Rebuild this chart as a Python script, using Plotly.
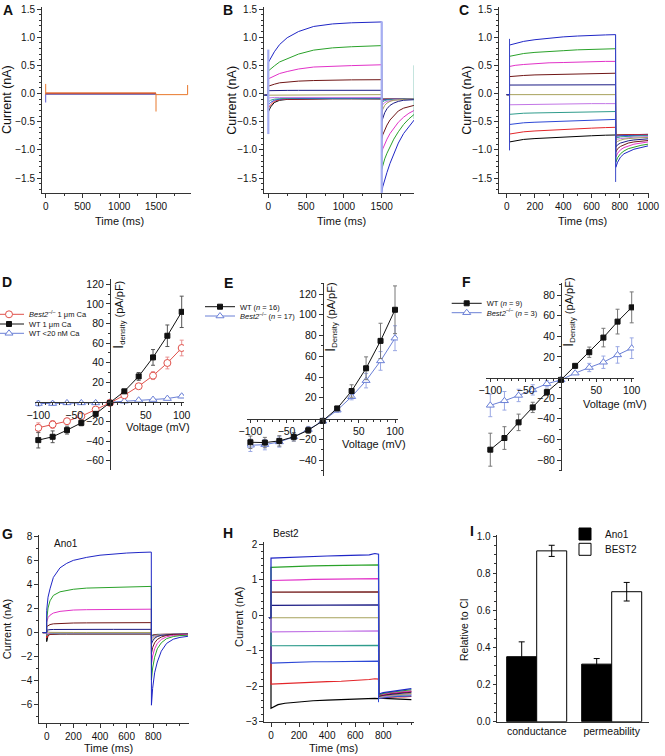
import plotly.graph_objects as go

W, H = 665, 756
FONT = "Liberation Sans, Arial, Helvetica, sans-serif"

# sweep colours, bottom sweep first (Clampfit order)
SWEEP_COLORS = ["#000000", "#e3262a", "#2d48d6", "#2f9c8c", "#c276e6",
                "#a7a25c", "#1b1b84", "#701616", "#e232c8", "#2aa22a", "#1f26c6"]

# ---------------- Panel A ----------------
A_t_step = [0, 1500]
A_step_I = [[-0.010, -0.010], [-0.005, -0.005], [0.005, 0.005], [0.010, 0.010]]
A_step_colors = ["#1b1b84", "#8a5ab0", "#c0302a", "#e8782c"]
A_t_tail = [1500, 1930]
A_tail_I = [-0.02, -0.02]
A_spike_t = [0, 0, None, 1500, 1500, None, 1930, 1930]
A_spike_I = [0.17, -0.02, None, 0.0, -0.32, None, -0.02, 0.15]
A_spike2_t = [0, 0]
A_spike2_I = [0.0, -0.16]

# ---------------- Panel B ----------------
B_hold_t = [-50, 0]
B_hold_I = [-0.03, -0.03]
B_t_step = [0, 30, 80, 150, 250, 400, 600, 850, 1100, 1500]
B_step_I = [
    [-0.33, -0.24, -0.16, -0.12, -0.105, -0.10, -0.10, -0.095, -0.095, -0.095],
    [-0.26, -0.20, -0.14, -0.11, -0.10, -0.095, -0.09, -0.09, -0.09, -0.09],
    [-0.20, -0.16, -0.12, -0.10, -0.09, -0.09, -0.085, -0.085, -0.085, -0.085],
    [-0.15, -0.12, -0.10, -0.09, -0.085, -0.08, -0.08, -0.08, -0.08, -0.08],
    [-0.08, -0.075, -0.07, -0.07, -0.07, -0.07, -0.07, -0.07, -0.07, -0.07],
    [-0.02, -0.02, -0.02, -0.02, -0.02, -0.02, -0.02, -0.02, -0.02, -0.02],
    [0.050, 0.052, 0.054, 0.055, 0.055, 0.056, 0.056, 0.057, 0.057, 0.057],
    [0.13, 0.145, 0.165, 0.19, 0.205, 0.22, 0.23, 0.238, 0.242, 0.245],
    [0.26, 0.28, 0.315, 0.355, 0.39, 0.435, 0.47, 0.485, 0.495, 0.51],
    [0.40, 0.44, 0.49, 0.56, 0.62, 0.70, 0.77, 0.81, 0.83, 0.85],
    [0.55, 0.63, 0.74, 0.87, 0.99, 1.10, 1.19, 1.235, 1.255, 1.27],
]
B_t_tail = [1500, 1515, 1540, 1570, 1610, 1660, 1720, 1790, 1860, 1930]
B_tail_I = [
    [-0.10, -0.10, -0.10, -0.10, -0.10, -0.10, -0.10, -0.10, -0.10, -0.10],
    [-0.11, -0.105, -0.10, -0.10, -0.10, -0.10, -0.10, -0.10, -0.10, -0.10],
    [-0.13, -0.12, -0.11, -0.105, -0.10, -0.10, -0.10, -0.10, -0.10, -0.10],
    [-0.16, -0.14, -0.125, -0.115, -0.11, -0.105, -0.10, -0.10, -0.10, -0.10],
    [-0.22, -0.19, -0.16, -0.14, -0.125, -0.115, -0.11, -0.105, -0.10, -0.10],
    [-0.32, -0.27, -0.21, -0.17, -0.14, -0.12, -0.11, -0.105, -0.10, -0.10],
    [-0.50, -0.42, -0.34, -0.27, -0.21, -0.17, -0.14, -0.12, -0.11, -0.11],
    [-0.80, -0.73, -0.64, -0.56, -0.47, -0.39, -0.31, -0.26, -0.23, -0.21],
    [-1.05, -0.98, -0.89, -0.81, -0.71, -0.61, -0.51, -0.42, -0.35, -0.30],
    [-1.35, -1.27, -1.16, -1.06, -0.94, -0.81, -0.68, -0.55, -0.45, -0.37],
    [-1.75, -1.65, -1.52, -1.40, -1.24, -1.06, -0.88, -0.71, -0.59, -0.47],
]
B_art_t = [0, 0, None, 1500, 1500]
B_art_I = [0.78, -0.72, None, 1.28, -1.82]
B_end_t = [1930, 1930]
B_end_I = [-0.45, 0.50]

# ---------------- Panel C ----------------
C_hold_t = [0, 20]
C_hold_I = [-0.02, -0.02]
C_t_step = [20, 60, 120, 200, 300, 400, 500, 600, 700, 770]
C_step_I = [
    [-0.86, -0.84, -0.815, -0.80, -0.785, -0.775, -0.76, -0.75, -0.74, -0.735],
    [-0.72, -0.70, -0.68, -0.665, -0.65, -0.635, -0.625, -0.615, -0.605, -0.60],
    [-0.55, -0.535, -0.52, -0.51, -0.50, -0.49, -0.48, -0.47, -0.465, -0.46],
    [-0.37, -0.36, -0.35, -0.345, -0.34, -0.335, -0.33, -0.325, -0.32, -0.32],
    [-0.20, -0.198, -0.195, -0.19, -0.19, -0.185, -0.185, -0.18, -0.18, -0.18],
    [-0.02, -0.02, -0.02, -0.02, -0.02, -0.02, -0.02, -0.02, -0.02, -0.02],
    [0.150, 0.150, 0.152, 0.152, 0.153, 0.154, 0.154, 0.155, 0.155, 0.155],
    [0.30, 0.31, 0.32, 0.33, 0.335, 0.34, 0.35, 0.355, 0.36, 0.36],
    [0.48, 0.50, 0.515, 0.53, 0.545, 0.55, 0.56, 0.565, 0.57, 0.57],
    [0.66, 0.685, 0.71, 0.73, 0.75, 0.76, 0.775, 0.785, 0.79, 0.795],
    [0.86, 0.89, 0.925, 0.955, 0.985, 1.005, 1.02, 1.035, 1.04, 1.045],
]
C_t_tail = [772, 785, 805, 830, 860, 900, 950, 1000]
C_tail_I = [
    [-0.73, -0.73, -0.73, -0.728, -0.727, -0.726, -0.725, -0.725],
    [-0.74, -0.738, -0.736, -0.734, -0.732, -0.73, -0.73, -0.73],
    [-0.76, -0.755, -0.75, -0.745, -0.745, -0.74, -0.74, -0.74],
    [-0.79, -0.78, -0.77, -0.765, -0.76, -0.755, -0.75, -0.75],
    [-0.83, -0.81, -0.80, -0.79, -0.78, -0.775, -0.77, -0.765],
    [-0.88, -0.85, -0.83, -0.81, -0.80, -0.79, -0.785, -0.78],
    [-0.95, -0.91, -0.88, -0.86, -0.84, -0.825, -0.815, -0.805],
    [-1.04, -0.98, -0.94, -0.91, -0.88, -0.86, -0.845, -0.835],
    [-1.13, -1.06, -1.00, -0.96, -0.93, -0.90, -0.88, -0.86],
    [-1.22, -1.14, -1.07, -1.02, -0.98, -0.95, -0.92, -0.90],
    [-1.31, -1.22, -1.13, -1.07, -1.03, -0.99, -0.96, -0.93],
]
C_art_t = [20, 20, None, 771, 771]
C_art_I = [0.97, -1.01, None, 1.045, -1.57]

# ---------------- Panel D ----------------
V = [-100, -80, -60, -40, -20, 0, 20, 40, 60, 80, 100]
D_ko = [-26.4, -23.0, -19.7, -14.6, -7.8, -1.0, 6.8, 16.0, 26.8, 39.7, 55.0]
D_ko_err = [5, 4, 3, 3, 2, 1, 1, 2.5, 4, 6, 8]
D_wt = [-39.0, -35.6, -28.8, -21.4, -12.2, -1.0, 10.8, 26.0, 45.4, 67.5, 91.9]
D_wt_err = [8, 6, 4, 3, 2, 1, 1, 4, 8, 11, 16]
D_low = [-1.7, -1.7, -1.0, -1.0, -1.0, -0.3, 0.7, 1.7, 2.4, 3.4, 5.8]
D_low_err = [2.5, 2, 1.5, 1, 1, 0.5, 0.5, 1, 1, 1, 1.5]

# ---------------- Panel E ----------------
E_wt = [-22.9, -23.2, -21.6, -17.7, -11.3, -2.3, 9.7, 26.5, 48.4, 74.8, 104.8]
E_wt_err = [6, 5, 5, 4, 3, 1, 2, 6, 11, 17, 23]
E_ko = [-25.8, -25.2, -22.6, -17.7, -10.6, -2.6, 8.0, 21.0, 36.5, 55.5, 77.4]
E_ko_err = [6, 5, 5, 4, 3, 1, 2, 3, 7, 9, 12]

# ---------------- Panel F ----------------
F_wt = [-70.0, -58.7, -43.5, -29.0, -14.2, -2.3, 11.3, 24.5, 38.7, 54.2, 68.0]
F_wt_err = [16, 11, 8, 5, 3, 1, 1, 5, 9, 12, 15]
F_ko = [-27.0, -22.6, -17.4, -12.0, -6.1, -2.3, 4.2, 9.7, 14.8, 21.9, 28.4]
F_ko_err = [11, 9, 6, 5, 3, 1, 1, 4, 6, 8, 10]

# ---------------- Panel G ----------------
G_hold_t = [-30, 0]
G_hold_I = [-0.05, -0.05]
G_color_idx = [0, 1, 3, 4, 5, 6, 7, 8, 9, 10]
G_t_step = [0, 10, 25, 50, 100, 150, 200, 300, 400, 500, 600, 700, 785]
G_step_I = [
    [-0.80, -0.30, -0.20, -0.18, -0.17, -0.17, -0.17, -0.17, -0.17, -0.17, -0.17, -0.17, -0.17],
    [-0.50, -0.25, -0.17, -0.15, -0.14, -0.14, -0.14, -0.14, -0.14, -0.14, -0.14, -0.14, -0.14],
    [-0.30, -0.15, -0.12, -0.11, -0.11, -0.11, -0.11, -0.11, -0.11, -0.11, -0.11, -0.11, -0.11],
    [-0.15, -0.10, -0.09, -0.08, -0.08, -0.08, -0.08, -0.08, -0.08, -0.08, -0.08, -0.08, -0.08],
    [0.10, 0.00, -0.03, -0.04, -0.04, -0.04, -0.04, -0.04, -0.04, -0.04, -0.04, -0.04, -0.04],
    [0.15, 0.18, 0.20, 0.21, 0.22, 0.22, 0.22, 0.22, 0.22, 0.22, 0.22, 0.22, 0.22],
    [0.45, 0.55, 0.62, 0.68, 0.72, 0.74, 0.75, 0.76, 0.77, 0.77, 0.78, 0.78, 0.78],
    [0.80, 1.20, 1.40, 1.58, 1.72, 1.79, 1.83, 1.86, 1.87, 1.88, 1.89, 1.89, 1.90],
    [1.00, 2.00, 2.60, 3.05, 3.35, 3.48, 3.56, 3.66, 3.70, 3.73, 3.75, 3.78, 3.80],
    [1.80, 2.90, 3.60, 4.55, 5.35, 5.72, 5.97, 6.22, 6.40, 6.50, 6.58, 6.63, 6.66],
]
G_t_tail = [786, 795, 810, 830, 860, 900, 950, 1000, 1060]
G_tail_I = [
    [-0.30, -0.25, -0.22, -0.20, -0.19, -0.18, -0.18, -0.18, -0.18],
    [-0.35, -0.28, -0.24, -0.21, -0.20, -0.19, -0.19, -0.19, -0.19],
    [-0.40, -0.32, -0.27, -0.23, -0.21, -0.20, -0.20, -0.20, -0.20],
    [-0.55, -0.42, -0.33, -0.27, -0.23, -0.21, -0.20, -0.20, -0.20],
    [-0.70, -0.55, -0.42, -0.32, -0.26, -0.22, -0.21, -0.20, -0.20],
    [-1.00, -0.75, -0.52, -0.38, -0.28, -0.22, -0.19, -0.18, -0.17],
    [-1.80, -1.30, -0.90, -0.62, -0.42, -0.28, -0.22, -0.20, -0.19],
    [-2.70, -2.00, -1.40, -0.95, -0.62, -0.40, -0.28, -0.24, -0.22],
    [-4.00, -3.00, -2.10, -1.40, -0.90, -0.55, -0.38, -0.30, -0.27],
    [-6.10, -4.70, -3.40, -2.50, -1.60, -0.95, -0.60, -0.45, -0.36],
]

# ---------------- Panel H ----------------
H_hold_t = [-15, 0]
H_hold_I = [-0.07, -0.07]
H_t_step = [0, 50, 100, 200, 300, 400, 500, 600, 700, 740, 766]
H_step_I = [
    [-2.62, -2.52, -2.48, -2.44, -2.41, -2.39, -2.37, -2.36, -2.35, -2.34, -2.35],
    [-1.94, -1.93, -1.91, -1.89, -1.88, -1.87, -1.86, -1.84, -1.81, -1.79, -1.80],
    [-1.35, -1.34, -1.33, -1.32, -1.31, -1.31, -1.30, -1.30, -1.29, -1.29, -1.29],
    [-0.86, -0.86, -0.86, -0.855, -0.855, -0.85, -0.85, -0.85, -0.85, -0.85, -0.85],
    [-0.47, -0.47, -0.46, -0.46, -0.455, -0.45, -0.45, -0.445, -0.44, -0.44, -0.44],
    [-0.07, -0.07, -0.07, -0.07, -0.07, -0.07, -0.07, -0.07, -0.07, -0.07, -0.07],
    [0.28, 0.28, 0.28, 0.285, 0.285, 0.285, 0.29, 0.29, 0.29, 0.29, 0.29],
    [0.65, 0.65, 0.65, 0.655, 0.655, 0.66, 0.66, 0.66, 0.66, 0.66, 0.66],
    [0.98, 0.99, 1.00, 1.00, 1.01, 1.01, 1.02, 1.02, 1.02, 1.03, 1.03],
    [1.35, 1.36, 1.37, 1.38, 1.39, 1.40, 1.41, 1.41, 1.42, 1.42, 1.42],
    [1.61, 1.62, 1.62, 1.64, 1.66, 1.67, 1.68, 1.69, 1.70, 1.74, 1.72],
]
H_t_tail = [768, 800, 850, 900, 950, 1000]
H_tail_I = [
    [-2.33, -2.34, -2.35, -2.36, -2.37, -2.38],
    [-2.33, -2.32, -2.31, -2.30, -2.30, -2.29],
    [-2.34, -2.32, -2.30, -2.29, -2.28, -2.27],
    [-2.33, -2.30, -2.28, -2.27, -2.25, -2.24],
    [-2.31, -2.29, -2.27, -2.25, -2.23, -2.22],
    [-2.30, -2.27, -2.25, -2.23, -2.21, -2.20],
    [-2.28, -2.25, -2.23, -2.21, -2.19, -2.17],
    [-2.27, -2.24, -2.21, -2.19, -2.17, -2.15],
    [-2.25, -2.22, -2.19, -2.17, -2.15, -2.13],
    [-2.24, -2.20, -2.17, -2.14, -2.12, -2.10],
    [-2.22, -2.18, -2.15, -2.12, -2.09, -2.07],
]
H_art_t = [766, 766]
H_art_I = [1.72, -2.45]

# ---------------- Panel I ----------------
I_categories = ["conductance", "permeability"]
I_ano1 = [0.35, 0.31]
I_ano1_err = [0.08, 0.03]
I_best2 = [0.92, 0.70]
I_best2_err = [0.03, 0.05]

# =====================================================================
fig = go.Figure()


def lin(p, pa, va, pb, vb):
    return va + (p - pa) * (vb - va) / (pb - pa)


def xspec(p0, p1, ra, rb):
    return [p0 / W, p1 / W], [lin(p0, *ra, *rb), lin(p1, *ra, *rb)]


def yspec(ptop, pbot, ra, rb):
    return [1 - pbot / H, 1 - ptop / H], [lin(pbot, *ra, *rb), lin(ptop, *ra, *rb)]


def sweep(n, t, I, color, width=1.0):
    fig.add_trace(go.Scatter(x=t, y=I, mode="lines", line=dict(color=color, width=width),
                             xaxis="x" + n, yaxis="y" + n, showlegend=False, hoverinfo="skip"))


# A
for k, c in enumerate(A_step_colors):
    sweep("", A_t_step, A_step_I[k], c)
sweep("", A_t_tail, A_tail_I, "#e8782c")
sweep("", A_spike2_t, A_spike2_I, "#5a5ad0")
sweep("", A_spike_t, A_spike_I, "#e8782c")

# B
for k in range(11):
    sweep("2", B_hold_t + B_t_step + B_t_tail, B_hold_I + B_step_I[k] + B_tail_I[k], SWEEP_COLORS[k])
sweep("2", B_art_t, B_art_I, "#a6aef2", 2.2)
sweep("2", B_end_t, B_end_I, "#3aa38e", 1.0)

# C
for k in range(11):
    sweep("3", C_hold_t + C_t_step + C_t_tail, C_hold_I + C_step_I[k] + C_tail_I[k], SWEEP_COLORS[k])
sweep("3", C_art_t, C_art_I, "#3a48c8", 1.0)

# G
for k, ci in enumerate(G_color_idx):
    sweep("7", G_hold_t + G_t_step + G_t_tail, G_hold_I + G_step_I[k] + G_tail_I[k], SWEEP_COLORS[ci])

# H
for k in range(11):
    sweep("8", H_hold_t + H_t_step + H_t_tail, H_hold_I + H_step_I[k] + H_tail_I[k], SWEEP_COLORS[k], 1.2)
sweep("8", H_art_t, H_art_I, "#2d48d6", 1.0)

RED = "#e0504a"
BLUE = "#6b80d6"


def iv(n, y, err, name, leg, color, ecolor, symbol, fill, size):
    fig.add_trace(go.Scatter(
        x=V, y=y, mode="lines+markers", name=name, legend=leg,
        line=dict(color=color, width=1),
        marker=dict(symbol=symbol, size=size, color=fill, line=dict(color=color, width=1)),
        error_y=dict(type="data", array=err, color=ecolor, thickness=1, width=2),
        xaxis="x" + n, yaxis="y" + n, hoverinfo="skip"))


KO = "<i>Best2</i><sup>\u2013/\u2013</sup>"
# D
iv("4", D_low, D_low_err, "WT &lt;20 nM Ca", "legend3", BLUE, "#9aa8e4", "triangle-up", "white", 7)
iv("4", D_ko, D_ko_err, KO + " 1 \u03bcm Ca", "legend", RED, "#e89090", "circle", "white", 7)
iv("4", D_wt, D_wt_err, "WT 1 \u03bcm Ca", "legend2", "#111111", "#555555", "square", "#111111", 5)
# E
iv("5", E_ko, E_ko_err, KO + " (<i>n</i> = 17)", "legend5", BLUE, "#9aa8e4", "triangle-up", "white", 7)
iv("5", E_wt, E_wt_err, "WT (<i>n</i> = 16)", "legend4", "#111111", "#777777", "square", "#111111", 5)
# F
iv("6", F_ko, F_ko_err, KO + " (<i>n</i> = 3)", "legend7", BLUE, "#9aa8e4", "triangle-up", "white", 7)
iv("6", F_wt, F_wt_err, "WT (<i>n</i> = 9)", "legend6", "#111111", "#777777", "square", "#111111", 5)

# I
fig.add_trace(go.Bar(x=I_categories, y=I_ano1, name="Ano1", legend="legend8",
                     marker=dict(color="black", line=dict(color="black", width=1)),
                     error_y=dict(type="data", array=I_ano1_err, color="black", thickness=1, width=3),
                     xaxis="x9", yaxis="y9", hoverinfo="skip"))
fig.add_trace(go.Bar(x=I_categories, y=I_best2, name="BEST2", legend="legend9",
                     marker=dict(color="white", line=dict(color="black", width=1)),
                     error_y=dict(type="data", array=I_best2_err, color="black", thickness=1, width=3),
                     xaxis="x9", yaxis="y9", hoverinfo="skip"))

# ---------------- axes ----------------
LC = "#333333"
BASE = dict(showline=True, linecolor=LC, linewidth=1, ticks="outside", ticklen=4, tickwidth=1,
            tickcolor=LC, showgrid=False, zeroline=False, fixedrange=True,
            tickfont=dict(family=FONT, size=10, color="#111"))


def minor(d, t0=0):
    return dict(ticks="outside", ticklen=2, tickwidth=1, tickcolor=LC, tickmode="linear",
                tick0=t0, dtick=d, showgrid=False)


lay = {}
Y_ABC = yspec(7, 193, (9, 1.5), (178, -1.5))
for n, xs, dt, mn in [("", xspec(42, 191, (45.7, 0), (156, 1500)), 500, 250),
                      ("2", xspec(264, 414, (268.3, 0), (381.7, 1500)), 500, 250),
                      ("3", xspec(499, 649, (506.7, 0), (648, 1000)), 200, 100)]:
    lay["xaxis" + n] = dict(BASE, domain=xs[0], range=xs[1], anchor="y" + n, tickmode="linear",
                            tick0=0, dtick=dt, minor=minor(mn))
    lay["yaxis" + n] = dict(BASE, domain=Y_ABC[0], range=Y_ABC[1], anchor="x" + n, tickmode="linear",
                            tick0=0, dtick=0.5, tickformat=".1f", minor=minor(0.1))

# D, E, F: axes crossing at the origin
for n, xs, ys, yt, zpx, xzero in [
    ("4", xspec(35, 184, (110, 0), (181.7, 100)), yspec(279, 470, (284.3, 120), (460.7, -60)),
     [-60, -40, -20, 20, 40, 60, 80, 100, 120], 401.9, 110),
    ("5", xspec(247, 398, (322.7, 0), (395, 100)), yspec(283, 476, (294, 120), (460, -40)),
     [-40, -20, 20, 40, 60, 80, 100, 120], 418.5, 322.7),
    ("6", xspec(486, 634, (561, 0), (631.7, 100)), yspec(283, 471, (295, 80), (460, -80)),
     [-80, -60, -40, -20, 20, 40, 60, 80], 377.5, 561),
]:
    lay["xaxis" + n] = dict(BASE, domain=xs[0], range=xs[1], anchor="free", position=1 - zpx / H,
                            tickmode="array", tickvals=[-100, -50, 50, 100], minor=minor(10),
                            ticklen=3, tickfont=dict(family=FONT, size=10.5, color="#111"))
    lay["yaxis" + n] = dict(BASE, domain=ys[0], range=ys[1], anchor="free", position=xzero / W,
                            tickmode="array", tickvals=yt, minor=minor(10),
                            tickfont=dict(family=FONT, size=10.5, color="#111"))

# G
xs = xspec(39.3, 189, (46.7, 0), (153.3, 800))
ys = yspec(535, 723, (536, 8), (704, -6))
lay["xaxis7"] = dict(BASE, domain=xs[0], range=xs[1], anchor="y7", tickmode="array",
                     tickvals=[0, 200, 400, 600, 800], minor=minor(100))
lay["yaxis7"] = dict(BASE, domain=ys[0], range=ys[1], anchor="x7", tickmode="linear",
                     tick0=0, dtick=2, minor=minor(1))
# H
xs = xspec(264.3, 414, (271, 0), (383.3, 800))
ys = yspec(541.7, 721.7, (544.3, 2), (721.7, -3))
lay["xaxis8"] = dict(BASE, domain=xs[0], range=xs[1], anchor="y8", tickmode="array",
                     tickvals=[0, 200, 400, 600, 800], minor=minor(100))
lay["yaxis8"] = dict(BASE, domain=ys[0], range=ys[1], anchor="x8", tickmode="linear",
                     tick0=0, dtick=1, minor=minor(0.2))
# I
xs = xspec(496.7, 649, (536.7, 0), (611.7, 1))
ys = yspec(535, 721.7, (536, 1.0), (721.7, 0.0))
lay["xaxis9"] = dict(BASE, domain=xs[0], range=xs[1], anchor="y9", ticks="", type="category",
                     tickfont=dict(family=FONT, size=10.5, color="#111"))
lay["yaxis9"] = dict(BASE, domain=ys[0], range=ys[1], anchor="x9", tickmode="linear", ticklen=3,
                     tick0=0, dtick=0.2, tickformat=".1f", minor=minor(0.05))


# ---------------- legends ----------------
def leg(xpx, ypx, size):
    return dict(x=xpx / W, y=1 - ypx / H, xanchor="left", yanchor="middle",
                bgcolor="rgba(0,0,0,0)", borderwidth=0, itemwidth=30, tracegroupgap=0,
                font=dict(family=FONT, size=size, color="#111"))


lay["legend"] = leg(-11, 314.3, 7.5)
lay["legend2"] = leg(-11, 324, 7.5)
lay["legend3"] = leg(-11, 333.3, 7.5)
lay["legend4"] = leg(200, 306.7, 7.5)
lay["legend5"] = leg(200, 316, 7.5)
lay["legend6"] = leg(446.7, 303.3, 7.5)
lay["legend7"] = leg(446.7, 312.7, 7.5)
lay["legend8"] = leg(565, 534, 10)
lay["legend9"] = leg(565, 549.3, 10)


# ---------------- text ----------------
def note(text, xpx, ypx, size=11, angle=0, bold=False, xanchor="center"):
    return dict(text=("<b>%s</b>" % text) if bold else text, x=xpx / W, y=1 - ypx / H,
                xref="paper", yref="paper", showarrow=False, textangle=angle,
                xanchor=xanchor, yanchor="middle",
                font=dict(family=FONT, size=size, color="#111"))


ann = []
for L, x, y in [("A", 7.5, 10), ("B", 228, 10), ("C", 463.5, 10), ("D", 7, 282),
                ("E", 228, 283), ("F", 466, 282), ("G", 7, 534), ("H", 228, 533), ("I", 472, 531)]:
    ann.append(note(L, x, y, 14, bold=True))
for x in (7, 231.7, 466.7):
    ann.append(note("Current (nA)", x, 100, 12.5, -90))
for x in (119.5, 341, 582.5):
    ann.append(note("Time (ms)", x, 221, 11))
ann.append(note("Current (nA)", 7.3, 629, 11, -90))
ann.append(note("Current (nA)", 238.3, 616.7, 11, -90))
ann.append(note("Time (ms)", 108, 748, 11))
ann.append(note("Time (ms)", 333, 748, 11))
ann.append(note("Relative to Cl", 464, 630, 10.5, -90))
ann.append(note("Ano1", 66, 543, 10))
ann.append(note("Best2", 286, 533, 10))
ann.append(note("Voltage (mV)", 158, 427, 11))
ann.append(note("Voltage (mV)", 374, 443.5, 11))
ann.append(note("Voltage (mV)", 615, 404, 11))
IDEN = "<span style='font-size:15px'>I</span><sub>%s</sub> (pA/pF)"
ann.append(note(IDEN % "density", 118, 315, 11, -90))
ann.append(note(IDEN % "Density", 330, 317, 11, -90))
ann.append(note(IDEN % "Density", 568, 312, 11, -90))

fig.update_layout(
    width=W, height=H, autosize=False,
    margin=dict(l=0, r=0, t=0, b=0, autoexpand=False),
    paper_bgcolor="white", plot_bgcolor="white",
    showlegend=True, barmode="group", bargap=0.2, bargroupgap=0,
    font=dict(family=FONT, size=10, color="#111"),
    annotations=ann, **lay)

fig.write_html("out.html", config={"displayModeBar": False},
               post_script="document.body.style.margin='0px';")
